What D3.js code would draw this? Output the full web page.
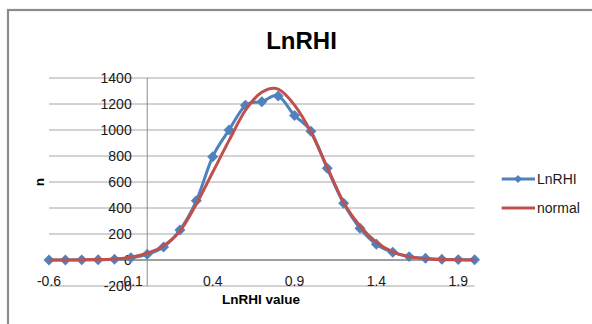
<!DOCTYPE html>
<html><head><meta charset="utf-8">
<script src="https://cdn.jsdelivr.net/npm/d3@7"></script>
<style>html,body{margin:0;padding:0;background:#fff;}svg{display:block;font-family:"Liberation Sans",Arial,sans-serif;}</style>
</head><body>
<script>
const xValues = [-0.6,-0.5,-0.4,-0.3,-0.2,-0.1,0,0.1,0.2,0.3,0.4,0.5,0.6,0.7,0.8,0.9,1.0,1.1,1.2,1.3,1.4,1.5,1.6,1.7,1.8,1.9,2.0];
const lnrhi  = [0,0,1,2,5,18,44,100,231,455,795,1000,1190,1218,1262,1112,990,705,436,244,121,59,26,13,5,3,2];
const normal = [0,0,1,3,8,22,52,110,222,430,675,920,1152,1290,1315,1192,985,712,442,262,137,63,26,10,3,1,0];
const xTicks = [-0.6,-0.1,0.4,0.9,1.4,1.9];
const yTicks = [-200,0,200,400,600,800,1000,1200,1400];
const seriesNames = ["LnRHI","normal"];
const colors = ["#4F81BD","#C0504D"];

const W=592,H=324;
const svg=d3.select("body").append("svg").attr("width",W).attr("height",H);
svg.append("rect").attr("width",W).attr("height",H).attr("fill","#fff");
// chart area border
svg.append("rect").attr("x",8).attr("y",10).attr("width",700).attr("height",400)
  .attr("fill","none").attr("stroke","#8c8c8c").attr("stroke-width",2.2);

const x=d3.scaleLinear().domain([-0.6,2.0]).range([49,474.6]);
const y=d3.scaleLinear().domain([-200,1400]).range([286,78]);

// gridlines
svg.append("g").selectAll("line").data(yTicks).join("line")
  .attr("x1",x(-0.6)).attr("x2",x(2.0)).attr("y1",d=>y(d)).attr("y2",d=>y(d))
  .attr("stroke","#a6a6a6").attr("stroke-width",1);
// axes lines
svg.append("line").attr("x1",x(0)).attr("x2",x(0)).attr("y1",y(1400)).attr("y2",y(-200))
  .attr("stroke","#8c8c8c").attr("stroke-width",1);
svg.append("line").attr("x1",x(-0.6)).attr("x2",x(2.0)).attr("y1",y(0)).attr("y2",y(0))
  .attr("stroke","#8c8c8c").attr("stroke-width",1.3);

// y tick labels
svg.append("g").selectAll("text").data(yTicks).join("text")
  .attr("x",x(0)-15.5).attr("y",d=>y(d)).attr("dy","0.35em").attr("text-anchor","end")
  .attr("font-size",14).attr("fill","#1a1a1a").text(d=>String(d));
// x tick labels
svg.append("g").selectAll("text").data(xTicks).join("text")
  .attr("x",d=>x(d)).attr("y",y(0)+21).attr("dy","0.35em").attr("text-anchor","middle")
  .attr("font-size",14).attr("fill","#1a1a1a").text(d=>d.toFixed(1));

// titles
svg.append("text").attr("x",301.5).attr("y",49).attr("text-anchor","middle")
  .attr("font-size",24).attr("font-weight","bold").text("LnRHI");
svg.append("text").attr("x",261).attr("y",299).attr("dy","0.35em").attr("text-anchor","middle")
  .attr("font-size",13.5).attr("font-weight","bold").text("LnRHI value");
svg.append("text").attr("transform","translate(39,182) rotate(-90)").attr("dy","0.35em")
  .attr("text-anchor","middle").attr("font-size",13.5).attr("font-weight","bold").text("n");

const line=d3.line().x((d,i)=>x(xValues[i])).y(d=>y(d)).curve(d3.curveCardinal.tension(0));
const diamond=d3.symbol().type(d3.symbolSquare).size(60);

// LnRHI series
svg.append("path").datum(lnrhi).attr("d",line).attr("fill","none")
  .attr("stroke",colors[0]).attr("stroke-width",3).attr("stroke-linejoin","round");
svg.append("g").selectAll("path").data(lnrhi).join("path")
  .attr("d",diamond).attr("transform",(d,i)=>`translate(${x(xValues[i])},${y(d)}) rotate(45)`)
  .attr("fill",colors[0]);
// normal series
svg.append("path").datum(normal).attr("d",line).attr("fill","none")
  .attr("stroke",colors[1]).attr("stroke-width",3).attr("stroke-linejoin","round");

// legend
const lg=svg.append("g");
seriesNames.forEach((n,i)=>{
  const ly=179+i*29;
  lg.append("line").attr("x1",501.7).attr("x2",535).attr("y1",ly).attr("y2",ly)
    .attr("stroke",colors[i]).attr("stroke-width",3);
  if(i===0) lg.append("path").attr("d",d3.symbol().type(d3.symbolSquare).size(32))
    .attr("transform",`translate(518,${ly}) rotate(45)`).attr("fill",colors[0]);
  lg.append("text").attr("x",537).attr("y",ly).attr("dy","0.35em").attr("font-size",14)
    .attr("fill","#1a1a1a").text(n);
});
</script>
</body></html>
